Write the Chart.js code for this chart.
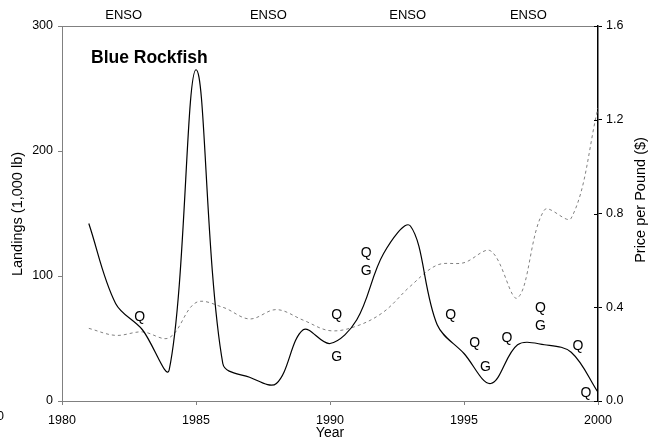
<!DOCTYPE html>
<html>
<head>
<meta charset="utf-8">
<script src="https://cdn.jsdelivr.net/npm/chart.js@4/dist/chart.umd.min.js"></script>
<style>
  body { margin: 0; background: #fff; }
  #box { width: 654px; height: 440px; position: relative; }
</style>
</head>
<body>
<div id="box"><canvas id="chart"></canvas></div>
<script>
// data
const years = [1981, 1982, 1983, 1984, 1985, 1986, 1987, 1988, 1989, 1990,
               1991, 1992, 1993, 1994, 1995, 1996, 1997, 1998, 1999, 2000];
const landings = [142, 78, 57, 25, 265, 30, 19, 14, 57, 46,
                  65, 118, 140, 61, 38, 14, 45, 45, 39, 7];
const price = [0.31, 0.28, 0.295, 0.27, 0.42, 0.40, 0.35, 0.39, 0.345, 0.30,
               0.32, 0.38, 0.49, 0.58, 0.59, 0.64, 0.44, 0.815, 0.78, 1.25];

const xTicks = [1980, 1985, 1990, 1995, 2000];
const ensoYears = [1982.3, 1987.7, 1992.9, 1997.4];

// Q / G markers (year, landings level, letter)
const markYears = [1982.9, 1990.25, 1990.25, 1991.35, 1991.35, 1994.5, 1995.4,
                   1995.8, 1996.6, 1997.85, 1997.85, 1999.25, 1999.55];
const markValues = [67, 69, 35, 118, 104, 69, 46, 27, 50, 74, 60, 44, 6];
const markText = ["Q", "Q", "G", "Q", "G", "Q", "Q", "G", "Q", "Q", "G", "Q", "Q"];

const FONT = "'Liberation Sans', Arial, sans-serif";

function toXY(xs, ys) {
    var out = [];
    for (var i = 0; i < xs.length; i++) out.push({x: xs[i], y: ys[i]});
    return out;
}

const textPlugin = {
    id: "texts",
    afterDraw(chart) {
        const ctx = chart.ctx;
        const area = chart.chartArea;
        const x = chart.scales.x;
        const y = chart.scales.y;
        const y2 = chart.scales.y2;
        ctx.save();

        // top border
        ctx.strokeStyle = "#808080";
        ctx.lineWidth = 1;
        ctx.beginPath();
        ctx.moveTo(area.left - 4, area.top + 0.5);
        ctx.lineTo(area.right, area.top + 0.5);
        ctx.stroke();

        // inner half of right-axis ticks
        ctx.strokeStyle = "#000";
        for (var v = 0; v <= 1.6001; v += 0.4) {
            var py = Math.round(y2.getPixelForValue(v)) + 0.5;
            ctx.beginPath();
            ctx.moveTo(area.right - 4, py);
            ctx.lineTo(area.right, py);
            ctx.stroke();
        }

        ctx.fillStyle = "#000";
        ctx.textAlign = "center";
        ctx.textBaseline = "middle";

        ctx.font = "13px " + FONT;
        for (var e of ensoYears) {
            ctx.fillText("ENSO", x.getPixelForValue(e), 15);
        }

        ctx.font = "14px " + FONT;
        for (var i = 0; i < markText.length; i++) {
            ctx.fillText(markText[i], x.getPixelForValue(markYears[i]), y.getPixelForValue(markValues[i]));
        }

        ctx.font = "bold 17.5px " + FONT;
        ctx.textAlign = "left";
        ctx.fillText("Blue Rockfish", 91, 58);

        ctx.font = "12.5px " + FONT;
        ctx.fillText("0", -3, 417);

        ctx.textAlign = "center";
        ctx.font = "14px " + FONT;
        ctx.fillText("Year", (area.left + area.right) / 2, 433);

        ctx.save();
        ctx.translate(18, 214);
        ctx.rotate(-Math.PI / 2);
        ctx.font = "14.5px " + FONT;
        ctx.fillText("Landings (1,000 lb)", 0, 0);
        ctx.restore();

        ctx.save();
        ctx.translate(641, 200);
        ctx.rotate(-Math.PI / 2);
        ctx.font = "14.5px " + FONT;
        ctx.fillText("Price per Pound ($)", 0, 0);
        ctx.restore();

        ctx.restore();
    }
};

function main() {
    const canvas = document.getElementById("chart");
    new Chart(canvas, {
        type: "line",
        data: {
            datasets: [{
                label: "Landings",
                data: toXY(years, landings),
                yAxisID: "y",
                borderColor: "#000",
                borderWidth: 1.2,
                pointRadius: 0,
                tension: 0.35,
                fill: false
            }, {
                label: "Price",
                data: toXY(years, price),
                yAxisID: "y2",
                borderColor: "#808080",
                borderWidth: 1,
                borderDash: [3, 3],
                pointRadius: 0,
                tension: 0.35,
                fill: false
            }]
        },
        options: {
            responsive: true,
            maintainAspectRatio: false,
            animation: false,
            layout: { padding: { top: 26, left: 0, right: 0, bottom: 0 } },
            plugins: {
                legend: { display: false },
                tooltip: { enabled: false }
            },
            scales: {
                x: {
                    type: "linear",
                    min: 1980,
                    max: 2000,
                    afterBuildTicks(scale) {
                        scale.ticks = xTicks.map(v => ({value: v}));
                    },
                    afterFit(scale) { scale.height = 39; },
                    grid: {
                        drawOnChartArea: false,
                        tickLength: 4,
                        color: "#808080"
                    },
                    border: { color: "#808080", width: 1 },
                    ticks: {
                        color: "#000",
                        font: { family: FONT, size: 12.5 },
                        padding: 8,
                        maxRotation: 0,
                        callback: v => String(v)
                    }
                },
                y: {
                    position: "left",
                    min: 0,
                    max: 300,
                    afterFit(scale) { scale.width = 62; },
                    grid: {
                        drawOnChartArea: false,
                        tickLength: 4,
                        color: "#808080"
                    },
                    border: { color: "#808080", width: 1 },
                    ticks: {
                        stepSize: 100,
                        color: "#000",
                        font: { family: FONT, size: 12.5 },
                        padding: 5
                    }
                },
                y2: {
                    position: "right",
                    min: 0,
                    max: 1.6,
                    afterFit(scale) { scale.width = 56; },
                    grid: {
                        drawOnChartArea: false,
                        tickLength: 4,
                        color: "#000"
                    },
                    border: { color: "#000", width: 1.5 },
                    ticks: {
                        stepSize: 0.4,
                        color: "#000",
                        font: { family: FONT, size: 12.5 },
                        padding: 4,
                        callback: v => v.toFixed(1)
                    }
                }
            }
        },
        plugins: [textPlugin]
    });
}

document.addEventListener("DOMContentLoaded", main);
</script>
</body>
</html>
